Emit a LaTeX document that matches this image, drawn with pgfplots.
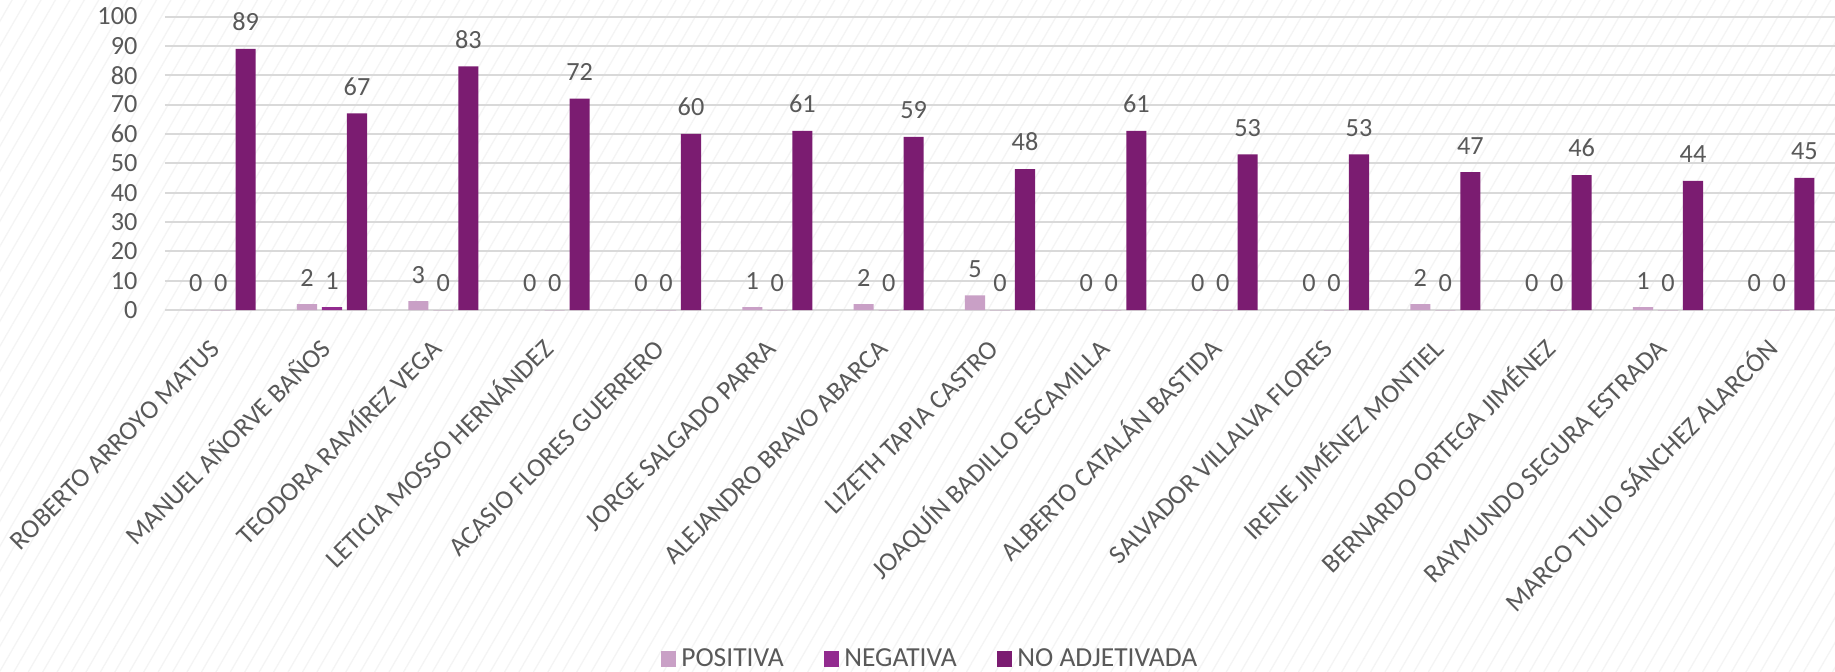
\documentclass[border=0pt]{standalone}
\usepackage{pgfplots}
\pgfplotsset{compat=1.18}
\usepackage{fontspec}
\setmainfont{Carlito}
\usetikzlibrary{patterns.meta}
\definecolor{cpos}{HTML}{C9A0C6}
\definecolor{cneg}{HTML}{922B8F}
\definecolor{cnoa}{HTML}{7B1C71}
\definecolor{ctxt}{HTML}{595959}
\definecolor{cgrid}{HTML}{D9D9D9}
\begin{document}
\begin{tikzpicture}
\fill[white] (-66pt,-144.4pt) rectangle (668pt,124pt);
\fill[pattern={Lines[angle=60,distance=5pt,line width=0.5pt]},pattern color=gray!9] (-66pt,-144.4pt) rectangle (668pt,124pt);
\begin{axis}[
  scale only axis,
  width=668pt, height=117.4pt,
  xmin=-0.5, xmax=14.5,
  ymin=0, ymax=100,
  ytick={0,10,...,100},
  xtick={0,...,14},
  xticklabels={ROBERTO ARROYO MATUS, MANUEL AÑORVE BAÑOS, TEODORA RAMÍREZ VEGA, LETICIA MOSSO HERNÁNDEZ, ACASIO FLORES GUERRERO, JORGE SALGADO PARRA, ALEJANDRO BRAVO ABARCA, LIZETH TAPIA CASTRO, JOAQUÍN BADILLO ESCAMILLA, ALBERTO CATALÁN BASTIDA, SALVADOR VILLALVA FLORES, IRENE JIMÉNEZ MONTIEL, BERNARDO ORTEGA JIMÉNEZ, RAYMUNDO SEGURA ESTRADA, MARCO TULIO SÁNCHEZ ALARCÓN},
  xticklabel style={rotate=45, anchor=north east, font=\fontsize{10.6}{13}\selectfont, text=ctxt, text height=9.6pt, text depth=0pt, yshift=-1.8pt, xshift=-11.3pt, inner sep=0pt},
  yticklabel style={font=\fontsize{10.5}{12}\selectfont, text=ctxt, xshift=-7.5pt},
  /pgf/number format/assume math mode=true,
  major tick length=0pt,
  axis line style={draw=none},
  ymajorgrids,
  grid style={cgrid, line width=0.8pt},
  ybar,
  bar width=0.18,
  nodes near coords,
  every node near coord/.append style={font=\fontsize{10.5}{12}\selectfont, text=ctxt, anchor=south, inner sep=0pt, yshift=7pt},
  legend style={at={(0.459,-1.189)}, anchor=center, draw=none, fill=none, legend columns=3,
    font=\fontsize{11}{13}\selectfont, text=ctxt,
    /tikz/every even column/.append style={column sep=14pt}},
  legend image code/.code={\fill[#1] (0pt,-3.1pt) rectangle (6.2pt,3.1pt);},
]
\addplot[fill=cpos, draw=none, bar shift=-0.2246] coordinates {(0,0) (1,2) (2,3) (3,0) (4,0) (5,1) (6,2) (7,5) (8,0) (9,0) (10,0) (11,2) (12,0) (13,1) (14,0)};
\addplot[fill=cneg, draw=none, bar shift=0] coordinates {(0,0) (1,1) (2,0) (3,0) (4,0) (5,0) (6,0) (7,0) (8,0) (9,0) (10,0) (11,0) (12,0) (13,0) (14,0)};
\addplot[fill=cnoa, draw=none, bar shift=0.2246] coordinates {(0,89) (1,67) (2,83) (3,72) (4,60) (5,61) (6,59) (7,48) (8,61) (9,53) (10,53) (11,47) (12,46) (13,44) (14,45)};
\legend{POSITIVA, NEGATIVA, NO ADJETIVADA}
\end{axis}
\pgfresetboundingbox
\path[use as bounding box] (-66pt,-144.4pt) rectangle (668pt,124pt);
\end{tikzpicture}
\end{document}
